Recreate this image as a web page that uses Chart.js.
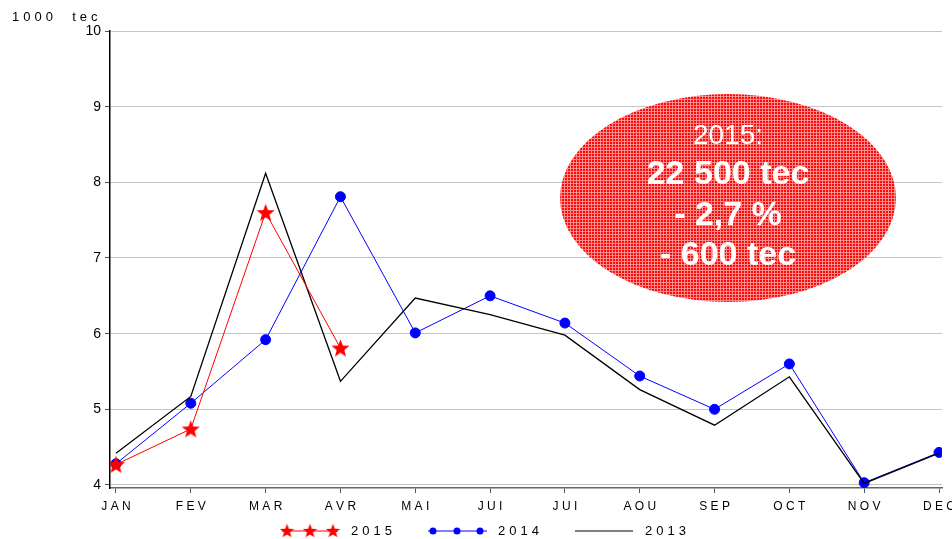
<!DOCTYPE html>
<html>
<head>
<meta charset="utf-8">
<script src="https://cdn.jsdelivr.net/npm/chart.js@4"></script>
<style>
  html, body { margin: 0; padding: 0; background: #fff; }
  #wrap { width: 952px; height: 539px; position: relative; }
</style>
</head>
<body>
<div id="wrap"><canvas id="chart" width="952" height="539"></canvas></div>
<script>
const months = ['JAN', 'FEV', 'MAR', 'AVR', 'MAI', 'JUI', 'JUI', 'AOU', 'SEP', 'OCT', 'NOV', 'DEC'];
const yTicks = [4, 5, 6, 7, 8, 9, 10];
const values2013 = [4.42, 5.17, 8.12, 5.37, 6.47, 6.25, 5.98, 5.26, 4.79, 5.43, 4.02, 4.42];
const values2014 = [4.28, 5.08, 5.92, 7.81, 6.01, 6.5, 6.14, 5.44, 5.0, 5.6, 4.03, 4.43];
const values2015 = [4.27, 4.74, 7.6, 5.81];
const boxLines = ['2015:', '22 500 tec', '- 2,7 %', '- 600 tec'];

const FONT = '"Liberation Sans", Arial, sans-serif';
const spaced = s => s.split('').join(' ');
const toPoints = vals => vals.map((v, i) => ({ x: i, y: v }));

// filled star used as point style for 2015
function makeStar(size, color) {
  const c = document.createElement('canvas');
  c.width = size; c.height = size;
  const g = c.getContext('2d');
  const cx = size / 2, cy = size / 2 + 0.8, R = size / 2, r = R * 0.42;
  g.beginPath();
  for (let i = 0; i < 10; i++) {
    const rad = i % 2 === 0 ? R : r;
    const a = -Math.PI / 2 + i * Math.PI / 5;
    g.lineTo(cx + rad * Math.cos(a), cy + rad * Math.sin(a));
  }
  g.closePath();
  g.fillStyle = color;
  g.fill();
  return c;
}
const star = makeStar(19, '#ff0000');
const smallStar = makeStar(15, '#ff0000');

// red hatched texture for the ellipse
function makePattern(ctx) {
  const t = document.createElement('canvas');
  t.width = 3; t.height = 3;
  const g = t.getContext('2d');
  g.fillStyle = '#ff0a0a';
  g.fillRect(0, 0, 3, 3);
  g.fillStyle = '#ff8c8c';
  g.fillRect(0, 0, 3, 1);
  g.fillRect(0, 0, 1, 3);
  return ctx.createPattern(t, 'repeat');
}

const extras = {
  id: 'extras',
  afterDraw(chart) {
    const ctx = chart.ctx;
    ctx.save();

    // unit label
    ctx.fillStyle = '#000';
    ctx.font = '13px ' + FONT;
    ctx.textBaseline = 'middle';
    ctx.textAlign = 'left';
    ctx.letterSpacing = '4px';
    ctx.fillText('1000  tec', 12, 17);
    ctx.letterSpacing = '0px';

    // ellipse annotation
    ctx.beginPath();
    ctx.ellipse(728, 198, 168, 104, 0, 0, Math.PI * 2);
    ctx.fillStyle = makePattern(ctx);
    ctx.fill();
    ctx.fillStyle = '#fff';
    ctx.textAlign = 'center';
    ctx.font = '28px ' + FONT;
    ctx.fillText(boxLines[0], 728, 136);
    ctx.font = 'bold 34px ' + FONT;
    ctx.fillText(boxLines[1], 728, 175);
    ctx.fillText(boxLines[2], 728, 216);
    ctx.fillText(boxLines[3], 728, 256);

    // legend
    const ly = 531;
    ctx.font = '13px ' + FONT;
    ctx.textAlign = 'left';
    ctx.letterSpacing = '4px';
    ctx.lineWidth = 1;
    ctx.strokeStyle = '#ff0000';
    ctx.beginPath(); ctx.moveTo(282, ly); ctx.lineTo(338, ly); ctx.stroke();
    [287, 310, 333].forEach(x => ctx.drawImage(smallStar, x - 7.5, ly - 8));
    ctx.fillStyle = '#000';
    ctx.fillText('2015', 351, ly);

    ctx.strokeStyle = '#0000ff';
    ctx.beginPath(); ctx.moveTo(428, ly); ctx.lineTo(487, ly); ctx.stroke();
    ctx.fillStyle = '#0000ff';
    [433, 457, 480].forEach(x => { ctx.beginPath(); ctx.arc(x, ly, 3.5, 0, Math.PI * 2); ctx.fill(); });
    ctx.fillStyle = '#000';
    ctx.fillText('2014', 498, ly);

    ctx.strokeStyle = '#000';
    ctx.lineWidth = 1.2;
    ctx.beginPath(); ctx.moveTo(575, ly); ctx.lineTo(633, ly); ctx.stroke();
    ctx.fillText('2013', 645, ly);

    ctx.restore();
  }
};

new Chart(document.getElementById('chart'), {
  type: 'line',
  data: {
    datasets: [
      {
        label: '2015',
        data: toPoints(values2015),
        borderColor: '#ff0000',
        borderWidth: 1,
        pointStyle: star,
        pointRadius: 9
      },
      {
        label: '2013',
        data: toPoints(values2013),
        borderColor: '#000000',
        borderWidth: 1.3,
        pointRadius: 0
      },
      {
        label: '2014',
        data: toPoints(values2014),
        borderColor: '#0000ff',
        borderWidth: 1,
        pointBackgroundColor: '#0000ff',
        pointBorderColor: '#0000ff',
        pointRadius: 5
      }
    ]
  },
  options: {
    responsive: false,
    animation: false,
    events: [],
    layout: { padding: { top: 31, right: 7, left: 0, bottom: 0 } },
    plugins: {
      legend: { display: false },
      tooltip: { enabled: false }
    },
    scales: {
      x: {
        type: 'linear',
        min: -0.08,
        max: 11.04,
        afterFit: scale => { scale.height = 51; scale.paddingRight = 0; scale.paddingLeft = 0; },
        afterBuildTicks: scale => { scale.ticks = months.map((m, i) => ({ value: i })); },
        ticks: {
          autoSkip: false,
          maxRotation: 0,
          padding: 6,
          color: '#000',
          font: { family: FONT, size: 12 },
          callback: v => spaced(months[v])
        },
        grid: { display: true, drawOnChartArea: false, tickLength: 5, tickColor: '#555' },
        border: { color: '#666', width: 1.5 }
      },
      y: {
        min: 3.96,
        max: 10,
        afterFit: scale => { scale.width = 110; },
        afterBuildTicks: scale => { scale.ticks = yTicks.map(v => ({ value: v })); },
        ticks: {
          padding: 4,
          color: '#000',
          font: { family: FONT, size: 14 }
        },
        grid: { color: '#c4c4c4', lineWidth: 1, tickLength: 5, tickColor: '#555' },
        border: { color: '#000', width: 1.5 }
      }
    }
  },
  plugins: [extras]
});
</script>
</body>
</html>
